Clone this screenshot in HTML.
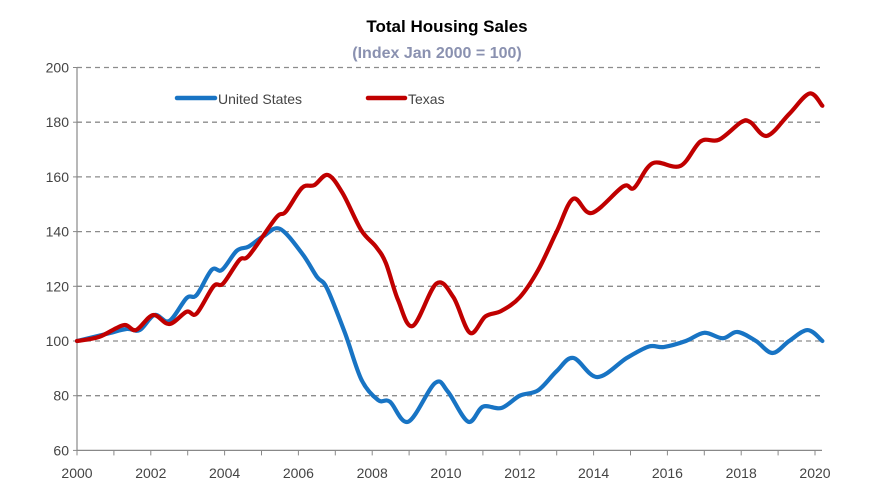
<!DOCTYPE html>
<html><head><meta charset="utf-8"><style>
body{margin:0;background:#fff;}
svg{display:block;font-family:"Liberation Sans",sans-serif;}
</style></head><body>
<svg id="chart" width="874" height="497">
<text x="447" y="32" text-anchor="middle" font-size="17" font-weight="bold" fill="#000">Total Housing Sales</text>
<text x="437" y="58" text-anchor="middle" font-size="16" font-weight="bold" fill="#8a91b0">(Index Jan 2000 = 100)</text>
<g id="grid"></g><g id="axes"></g><g id="series"></g>
<g>
<line x1="177" y1="98" x2="215" y2="98" stroke="#1874c4" stroke-width="4.5" stroke-linecap="round"/>
<text x="218" y="104" font-size="14" fill="#444">United States</text>
<line x1="368" y1="98" x2="405" y2="98" stroke="#c00000" stroke-width="4.5" stroke-linecap="round"/>
<text x="408" y="104" font-size="14" fill="#444">Texas</text>
</g>
</svg>
<script>
const yTicks=[60,80,100,120,140,160,180,200];
const xTickLabels=[2000,2002,2004,2006,2008,2010,2012,2014,2016,2018,2020];
const usYears=[0,0.8,1.35,1.7,2.1,2.5,2.97,3.24,3.65,3.93,4.33,4.65,5.06,5.5,6.1,6.5,6.77,7.26,7.71,8.16,8.48,8.98,9.7,10.05,10.6,11.0,11.5,12,12.5,13,13.45,14.1,14.9,15.5,15.9,16.5,17,17.5,17.9,18.4,18.85,19.3,19.8,20.2];
const usValues=[100,102.6,104.4,104,109.5,107.3,115.7,116.8,126,126,133,134.5,138.4,141,132,123.5,119.4,103,85.8,78.4,77.8,70.5,84.6,81.5,70.5,76,75.5,80,82,89,93.8,86.8,93.8,98,97.8,100,103,101,103.3,100,95.6,100,104,100];
const txYears=[0,0.6,1.26,1.6,2.06,2.5,2.97,3.24,3.7,3.96,4.4,4.67,5.39,5.66,6.1,6.43,6.8,7.2,7.7,8.1,8.37,8.7,9.1,9.74,10.2,10.65,11.07,11.5,12,12.5,13,13.45,13.95,14.8,15.1,15.6,16.35,16.9,17.4,18,18.25,18.7,19.3,19.85,20.2];
const txValues=[100,101.5,105.8,104,109.5,106.2,110.7,110,120,121,129.6,131.4,145,147.3,156,157,160.7,154,140.6,134.5,128.5,115,105.5,121,116,103,109,111,116,126,140,152,146.8,156.5,156,165,164,173,173.6,180,180,175,183,190.5,186];
</script>
<script>
const NS="http://www.w3.org/2000/svg";
const X0=77, PX_PER_YEAR=36.9, XEND=822;
function xScale(yr){return X0+yr*PX_PER_YEAR;}
function yScale(v){return 341-(v-100)*2.735;}
function mk(tag,attrs,parent){const e=document.createElementNS(NS,tag);for(const k in attrs)e.setAttribute(k,attrs[k]);parent.appendChild(e);return e;}
const grid=document.getElementById('grid'),axes=document.getElementById('axes'),series=document.getElementById('series');
yTicks.forEach(v=>{
  const y=yScale(v);
  if(v>60){const l=mk('line',{x1:X0,x2:XEND,y1:y,y2:y,stroke:'#8c8c8c','stroke-width':1.3,'stroke-dasharray':'5,4'},grid);
  
  }
  const t=mk('text',{x:X0-8,y:y+5,'text-anchor':'end','font-size':14,fill:'#444'},axes);t.textContent=v;
  
  
  const tk=mk('line',{x1:X0-4,x2:X0,y1:y,y2:y,stroke:'#888'},axes);
  
  
});
const ya=mk('line',{x1:X0,x2:X0,y1:yScale(200),y2:yScale(60),stroke:'#888','stroke-width':1.2},axes);


const xa=mk('line',{x1:X0,x2:XEND,y1:yScale(60),y2:yScale(60),stroke:'#888','stroke-width':1.2},axes);


for(let i=0;i<=20;i++){const x=xScale(i);const tk=mk('line',{x1:x,x2:x,y1:yScale(60),y2:yScale(60)+5,stroke:'#888'},axes);
  
  }
xTickLabels.forEach(yr=>{const t=mk('text',{x:xScale(yr-2000),y:478,'text-anchor':'middle','font-size':14,fill:'#444'},axes);t.textContent=yr;
  
  });
function smoothPath(xs,vs){
  const n=Math.min(xs.length,vs.length);
  const p=[];for(let i=0;i<n;i++)p.push([xScale(xs[i]),yScale(vs[i])]);
  let d='M'+p[0][0]+','+p[0][1];
  for(let i=0;i<p.length-1;i++){
    const p0=p[i-1]||p[i],p1=p[i],p2=p[i+1],p3=p[i+2]||p2;
    const c1=[p1[0]+(p2[0]-p0[0])/6,p1[1]+(p2[1]-p0[1])/6];
    const c2=[p2[0]-(p3[0]-p1[0])/6,p2[1]-(p3[1]-p1[1])/6];
    d+=' C'+c1+' '+c2+' '+p2;
  }
  return d;
}
const us=mk('path',{d:smoothPath(usYears,usValues),fill:'none',stroke:'#1874c4','stroke-width':4.2,'stroke-linejoin':'round','stroke-linecap':'round'},series);


const tx=mk('path',{d:smoothPath(txYears,txValues),fill:'none',stroke:'#c00000','stroke-width':4.2,'stroke-linejoin':'round','stroke-linecap':'round'},series);


</script>
</body></html>
